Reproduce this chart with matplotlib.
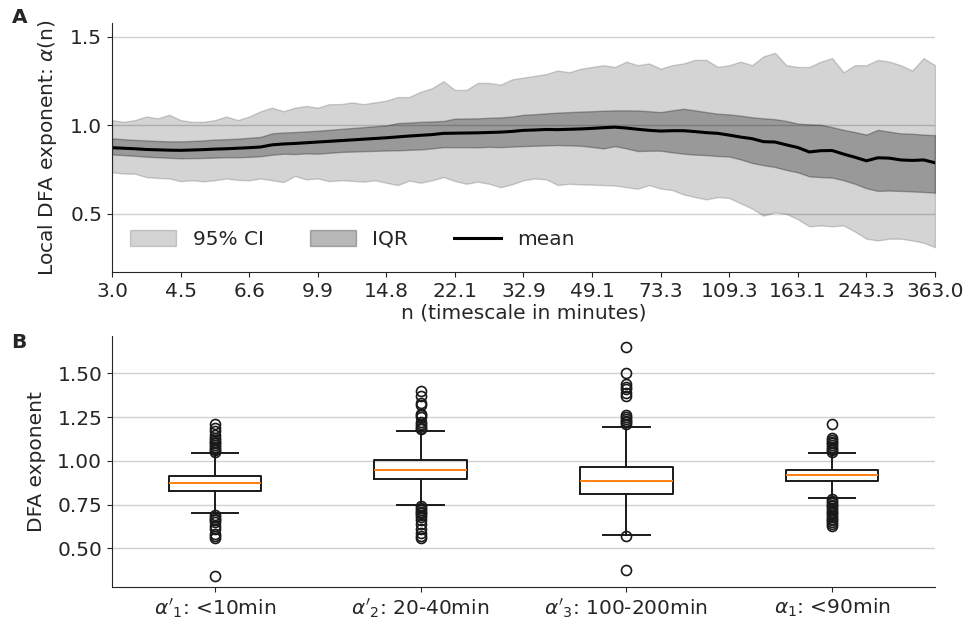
import matplotlib
matplotlib.use("Agg")
import matplotlib.pyplot as plt

# ---- panel A: local DFA exponent vs timescale (73 log-spaced scales) ----
tick_labels = ["3.0", "4.5", "6.6", "9.9", "14.8", "22.1", "32.9",
               "49.1", "73.3", "109.3", "163.1", "243.3", "363.0"]

ci_hi = [1.03, 1.02, 1.03, 1.05, 1.04, 1.06, 1.03, 1.02, 1.02, 1.03,
         1.05, 1.03, 1.05, 1.08, 1.10, 1.08, 1.10, 1.11, 1.10, 1.12,
         1.12, 1.13, 1.12, 1.13, 1.14, 1.16, 1.16, 1.19, 1.21, 1.25,
         1.20, 1.20, 1.24, 1.24, 1.23, 1.26, 1.27, 1.28, 1.29, 1.31,
         1.30, 1.32, 1.33, 1.34, 1.33, 1.36, 1.34, 1.35, 1.32, 1.34,
         1.35, 1.37, 1.37, 1.33, 1.34, 1.36, 1.34, 1.39, 1.41, 1.34,
         1.33, 1.33, 1.36, 1.38, 1.30, 1.34, 1.34, 1.37, 1.36, 1.34,
         1.31, 1.38, 1.34]
ci_lo = [0.735, 0.728, 0.727, 0.708, 0.703, 0.700, 0.685, 0.690, 0.684, 0.690,
         0.700, 0.692, 0.690, 0.700, 0.690, 0.680, 0.714, 0.695, 0.700, 0.685,
         0.690, 0.687, 0.682, 0.690, 0.676, 0.663, 0.688, 0.676, 0.690, 0.708,
         0.686, 0.670, 0.682, 0.670, 0.651, 0.667, 0.690, 0.700, 0.695, 0.663,
         0.670, 0.667, 0.665, 0.663, 0.660, 0.651, 0.642, 0.663, 0.643, 0.635,
         0.610, 0.595, 0.582, 0.595, 0.590, 0.560, 0.530, 0.490, 0.510, 0.500,
         0.470, 0.430, 0.435, 0.430, 0.435, 0.400, 0.360, 0.350, 0.360, 0.360,
         0.350, 0.337, 0.312]
iqr_hi = [0.927, 0.922, 0.918, 0.915, 0.912, 0.910, 0.910, 0.912, 0.915, 0.920,
          0.922, 0.925, 0.930, 0.935, 0.955, 0.960, 0.962, 0.966, 0.970, 0.975,
          0.980, 0.985, 0.990, 0.995, 1.000, 1.013, 1.016, 1.020, 1.022, 1.025,
          1.038, 1.039, 1.040, 1.043, 1.045, 1.050, 1.060, 1.063, 1.068, 1.072,
          1.075, 1.078, 1.080, 1.083, 1.085, 1.085, 1.084, 1.080, 1.075, 1.085,
          1.094, 1.085, 1.075, 1.066, 1.062, 1.055, 1.046, 1.040, 1.035, 1.025,
          1.010, 1.006, 1.004, 0.990, 0.975, 0.962, 0.948, 0.975, 0.965, 0.955,
          0.953, 0.948, 0.945]
iqr_lo = [0.836, 0.832, 0.828, 0.823, 0.820, 0.817, 0.814, 0.815, 0.816, 0.818,
          0.820, 0.820, 0.822, 0.826, 0.834, 0.840, 0.838, 0.842, 0.840, 0.845,
          0.850, 0.852, 0.854, 0.856, 0.858, 0.859, 0.862, 0.864, 0.870, 0.877,
          0.877, 0.877, 0.876, 0.879, 0.877, 0.880, 0.883, 0.885, 0.887, 0.889,
          0.887, 0.885, 0.878, 0.870, 0.883, 0.870, 0.855, 0.857, 0.857, 0.848,
          0.840, 0.835, 0.832, 0.827, 0.824, 0.808, 0.788, 0.775, 0.765, 0.748,
          0.735, 0.712, 0.708, 0.705, 0.690, 0.670, 0.645, 0.630, 0.632, 0.630,
          0.627, 0.624, 0.620]
mean_alpha = [0.874, 0.871, 0.868, 0.864, 0.862, 0.860, 0.859, 0.861, 0.863, 0.866,
              0.868, 0.871, 0.874, 0.878, 0.890, 0.895, 0.898, 0.902, 0.906, 0.910,
              0.914, 0.918, 0.922, 0.926, 0.930, 0.935, 0.940, 0.944, 0.948, 0.955,
              0.956, 0.957, 0.958, 0.960, 0.962, 0.966, 0.972, 0.974, 0.977, 0.976,
              0.978, 0.980, 0.983, 0.987, 0.990, 0.985, 0.978, 0.972, 0.968, 0.970,
              0.970, 0.965, 0.959, 0.955, 0.945, 0.934, 0.925, 0.908, 0.906, 0.890,
              0.875, 0.850, 0.857, 0.858, 0.838, 0.820, 0.800, 0.817, 0.815, 0.805,
              0.802, 0.805, 0.789]

# ---- panel B: box statistics of the DFA exponents ----
box_labels = [r"$\alpha'_1$: <10min", r"$\alpha'_2$: 20-40min",
              r"$\alpha'_3$: 100-200min", r"$\alpha_1$: <90min"]
box_med = [0.871, 0.949, 0.885, 0.917]
box_q1 = [0.827, 0.896, 0.809, 0.885]
box_q3 = [0.915, 1.005, 0.963, 0.947]
box_whislo = [0.702, 0.746, 0.574, 0.789]
box_whishi = [1.043, 1.172, 1.195, 1.043]
box_fliers = [
    [1.05, 1.06, 1.07, 1.08, 1.09, 1.10, 1.11, 1.12, 1.13, 1.15, 1.17, 1.19, 1.21,
     0.69, 0.68, 0.67, 0.66, 0.65, 0.63, 0.61, 0.58, 0.57, 0.56, 0.34],
    [1.18, 1.19, 1.20, 1.21, 1.22, 1.25, 1.26, 1.27, 1.32, 1.33, 1.37, 1.40,
     0.74, 0.73, 0.72, 0.71, 0.70, 0.69, 0.68, 0.66, 0.64, 0.61, 0.59, 0.57, 0.56],
    [1.21, 1.22, 1.23, 1.24, 1.25, 1.26, 1.37, 1.39, 1.41, 1.42, 1.44, 1.50, 1.65,
     0.568, 0.374],
    [1.05, 1.06, 1.07, 1.08, 1.09, 1.10, 1.11, 1.12, 1.13, 1.21,
     0.78, 0.77, 0.76, 0.75, 0.74, 0.73, 0.72, 0.71, 0.70, 0.69, 0.68, 0.67,
     0.66, 0.65, 0.64, 0.63],
]

plt.rcParams["font.size"] = 14.5
plt.rcParams["text.color"] = "0.15"
plt.rcParams["axes.labelcolor"] = "0.15"
plt.rcParams["xtick.color"] = "0.15"
plt.rcParams["ytick.color"] = "0.15"
plt.rcParams["axes.edgecolor"] = "0.15"

fig = plt.figure(figsize=(9.67, 6.25), dpi=100)
ax_a = fig.add_axes([0.1158, 0.5648, 0.8511, 0.3989])
ax_b = fig.add_axes([0.1158, 0.0613, 0.8511, 0.4011])

# panel A
x = list(range(len(mean_alpha)))
ax_a.fill_between(x, ci_lo, ci_hi, color="k", alpha=0.17, label="95% CI")
ax_a.fill_between(x, iqr_lo, iqr_hi, color="k", alpha=0.28, label="IQR")
ax_a.plot(x, mean_alpha, color="k", lw=2.2, label="mean")
ax_a.set_xlim(0, len(x) - 1)
ax_a.set_ylim(0.172, 1.58)
ax_a.set_yticks([0.5, 1.0, 1.5])
step = (len(x) - 1) // (len(tick_labels) - 1)
ax_a.set_xticks(x[::step])
ax_a.set_xticklabels(tick_labels)
ax_a.set_xlabel("n (timescale in minutes)", labelpad=2)
ax_a.set_ylabel(r"Local DFA exponent: $\alpha$(n)", labelpad=8)
ax_a.yaxis.grid(True, color="0.82", lw=1)
ax_a.set_axisbelow(True)
ax_a.legend(loc="lower left", ncol=3, frameon=False, handlelength=2.3,
            handleheight=0.8, columnspacing=2.3, handletextpad=0.8,
            bbox_to_anchor=(0.0, 0.02))

# panel B
stats = []
for i in range(len(box_labels)):
    stats.append(dict(med=box_med[i], q1=box_q1[i], q3=box_q3[i],
                      whislo=box_whislo[i], whishi=box_whishi[i],
                      fliers=box_fliers[i], label=box_labels[i]))
ax_b.bxp(stats, widths=0.45,
         boxprops=dict(color="0.1", lw=1.4),
         whiskerprops=dict(color="0.1", lw=1.4),
         capprops=dict(color="0.1", lw=1.4),
         medianprops=dict(color="#ff7f0e", lw=1.4),
         flierprops=dict(marker="o", markerfacecolor="none",
                         markeredgecolor="0.1", markersize=7.2,
                         markeredgewidth=1.2))
ax_b.set_ylim(0.281, 1.713)
ax_b.set_yticks([0.5, 0.75, 1.0, 1.25, 1.5])
ax_b.set_ylabel("DFA exponent", labelpad=8)
ax_b.yaxis.grid(True, color="0.82", lw=1)
ax_b.set_axisbelow(True)

for ax in (ax_a, ax_b):
    ax.spines["top"].set_visible(False)
    ax.spines["right"].set_visible(False)

fig.text(0.012, 0.972, "A", fontweight="bold", fontsize=14.5, va="center")
fig.text(0.012, 0.452, "B", fontweight="bold", fontsize=14.5, va="center")

fig.savefig("out.png", dpi=100)
